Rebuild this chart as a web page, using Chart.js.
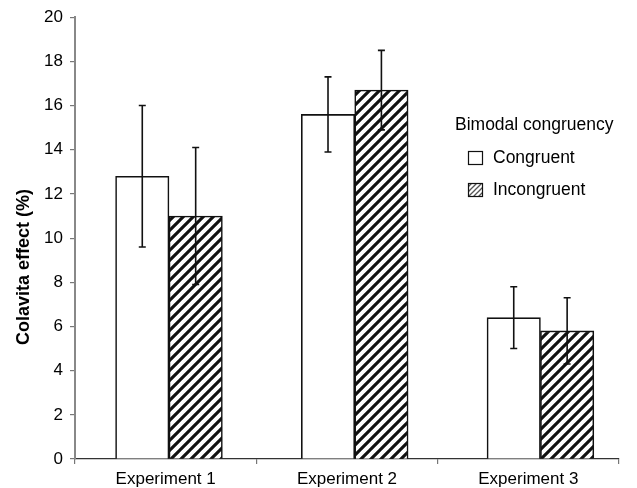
<!DOCTYPE html>
<html>
<head>
<meta charset="utf-8">
<script src="https://cdn.jsdelivr.net/npm/chart.js@4"></script>
<style>
  html, body { margin: 0; padding: 0; background: #fff; }
  #wrap { width: 637px; height: 488px; }
</style>
</head>
<body>
<div id="wrap"><canvas id="c" width="637" height="488"></canvas></div>
<script>
// ---- data ----
const categories = ["Experiment 1", "Experiment 2", "Experiment 3"];
const seriesNames = ["Congruent", "Incongruent"];
const congruent = [12.8, 15.6, 6.4];
const congruentErr = [3.2, 1.7, 1.4];
const incongruent = [11.0, 16.7, 5.8];
const incongruentErr = [3.1, 1.8, 1.5];
const yTicks = [0, 2, 4, 6, 8, 10, 12, 14, 16, 18, 20];
const yTitle = "Colavita effect (%)";
const legendTitle = "Bimodal congruency";

const FONT = "'Liberation Sans', Arial, Helvetica, sans-serif";

function hatch(size, lw, color) {
  const c = document.createElement('canvas');
  c.width = size; c.height = size;
  const g = c.getContext('2d');
  g.fillStyle = '#fff';
  g.fillRect(0, 0, size, size);
  g.strokeStyle = color;
  g.lineWidth = lw;
  g.beginPath();
  for (let k = -1; k <= 1; k++) {
    g.moveTo(k * size - 1, size + 1);
    g.lineTo(k * size + size + 1, -1);
  }
  g.stroke();
  return g.createPattern(c, 'repeat');
}
const barHatch = hatch(10, 3.1, '#111');
const legendHatch = hatch(5, 1.3, '#555');

const errors = [congruentErr, incongruentErr];

const errorBarPlugin = {
  id: 'errorBars',
  afterDatasetsDraw(chart) {
    const ctx = chart.ctx;
    const y = chart.scales.y;
    ctx.save();
    ctx.strokeStyle = '#111';
    ctx.lineWidth = 1.6;
    chart.data.datasets.forEach((ds, di) => {
      const meta = chart.getDatasetMeta(di);
      meta.data.forEach((bar, i) => {
        const v = ds.data[i].y;
        const e = errors[di][i];
        const yt = y.getPixelForValue(v + e);
        const yb = y.getPixelForValue(v - e);
        const x = bar.x;
        ctx.beginPath();
        ctx.moveTo(x, yt); ctx.lineTo(x, yb);
        ctx.moveTo(x - 3.5, yt); ctx.lineTo(x + 3.5, yt);
        ctx.moveTo(x - 3.5, yb); ctx.lineTo(x + 3.5, yb);
        ctx.stroke();
      });
    });
    ctx.restore();
  }
};

const customTextPlugin = {
  id: 'customText',
  afterDraw(chart) {
    const ctx = chart.ctx;
    ctx.save();
    // y-axis title
    ctx.translate(24, 267);
    ctx.rotate(-Math.PI / 2);
    ctx.fillStyle = '#000';
    ctx.font = "bold 18px " + FONT;
    ctx.textAlign = 'center';
    ctx.textBaseline = 'middle';
    ctx.fillText(yTitle, 0, 0);
    ctx.restore();

    // legend
    ctx.save();
    ctx.fillStyle = '#000';
    ctx.font = "17.5px " + FONT;
    ctx.textBaseline = 'middle';
    ctx.textAlign = 'left';
    ctx.fillText(legendTitle, 455, 125);
    const fills = ['#fff', legendHatch];
    seriesNames.forEach((name, i) => {
      const by = 151 + i * 32;
      ctx.fillStyle = fills[i];
      ctx.fillRect(468, by, 15, 14);
      ctx.strokeStyle = '#111';
      ctx.lineWidth = 1.2;
      ctx.strokeRect(468.5, by + 0.5, 14, 13);
      ctx.fillStyle = '#000';
      ctx.fillText(name, 493, by + 7.5);
    });
    ctx.restore();
  }
};

const toPoints = arr => arr.map((v, i) => ({ x: i, y: v }));

new Chart(document.getElementById('c'), {
  type: 'bar',
  data: {
    labels: categories,
    datasets: [
      {
        label: seriesNames[0],
        data: toPoints(congruent),
        backgroundColor: '#fff',
        borderColor: '#111',
        borderWidth: 1.6,
        xAxisID: 'xb',
        barThickness: 53.4
      },
      {
        label: seriesNames[1],
        data: toPoints(incongruent),
        backgroundColor: barHatch,
        borderColor: '#111',
        borderWidth: 1.6,
        xAxisID: 'xb',
        barThickness: 53.4
      }
    ]
  },
  options: {
    responsive: false,
    animation: false,
    devicePixelRatio: 1,
    layout: { padding: { left: 0, right: 18, top: 16, bottom: 0 } },
    plugins: {
      legend: { display: false },
      tooltip: { enabled: false },
      title: { display: false }
    },
    scales: {
      xb: {
        type: 'linear',
        display: false,
        offset: false,
        bounds: 'data',
        min: -0.506,
        max: 2.423
      },
      x: {
        type: 'category',
        labels: categories,
        position: 'bottom',
        offset: true,
        grid: {
          offset: true,
          drawOnChartArea: false,
          drawTicks: true,
          tickLength: 5,
          color: '#777',
          lineWidth: 1.2
        },
        border: { display: true, color: '#333', width: 1.3 },
        ticks: {
          color: '#000',
          font: { family: FONT, size: 17 },
          padding: 5,
          maxRotation: 0
        },
        afterFit(scale) { scale.height = 29; }
      },
      y: {
        min: 0,
        max: 20,
        afterBuildTicks(scale) { scale.ticks = yTicks.map(v => ({ value: v })); },
        grid: {
          drawOnChartArea: false,
          drawTicks: true,
          tickLength: 5,
          color: '#777',
          lineWidth: 1.2
        },
        border: { display: true, color: '#888', width: 2 },
        ticks: {
          color: '#000',
          font: { family: FONT, size: 17 },
          padding: 7
        },
        afterFit(scale) { scale.width = 75; }
      }
    }
  },
  plugins: [errorBarPlugin, customTextPlugin]
});
</script>
</body>
</html>
